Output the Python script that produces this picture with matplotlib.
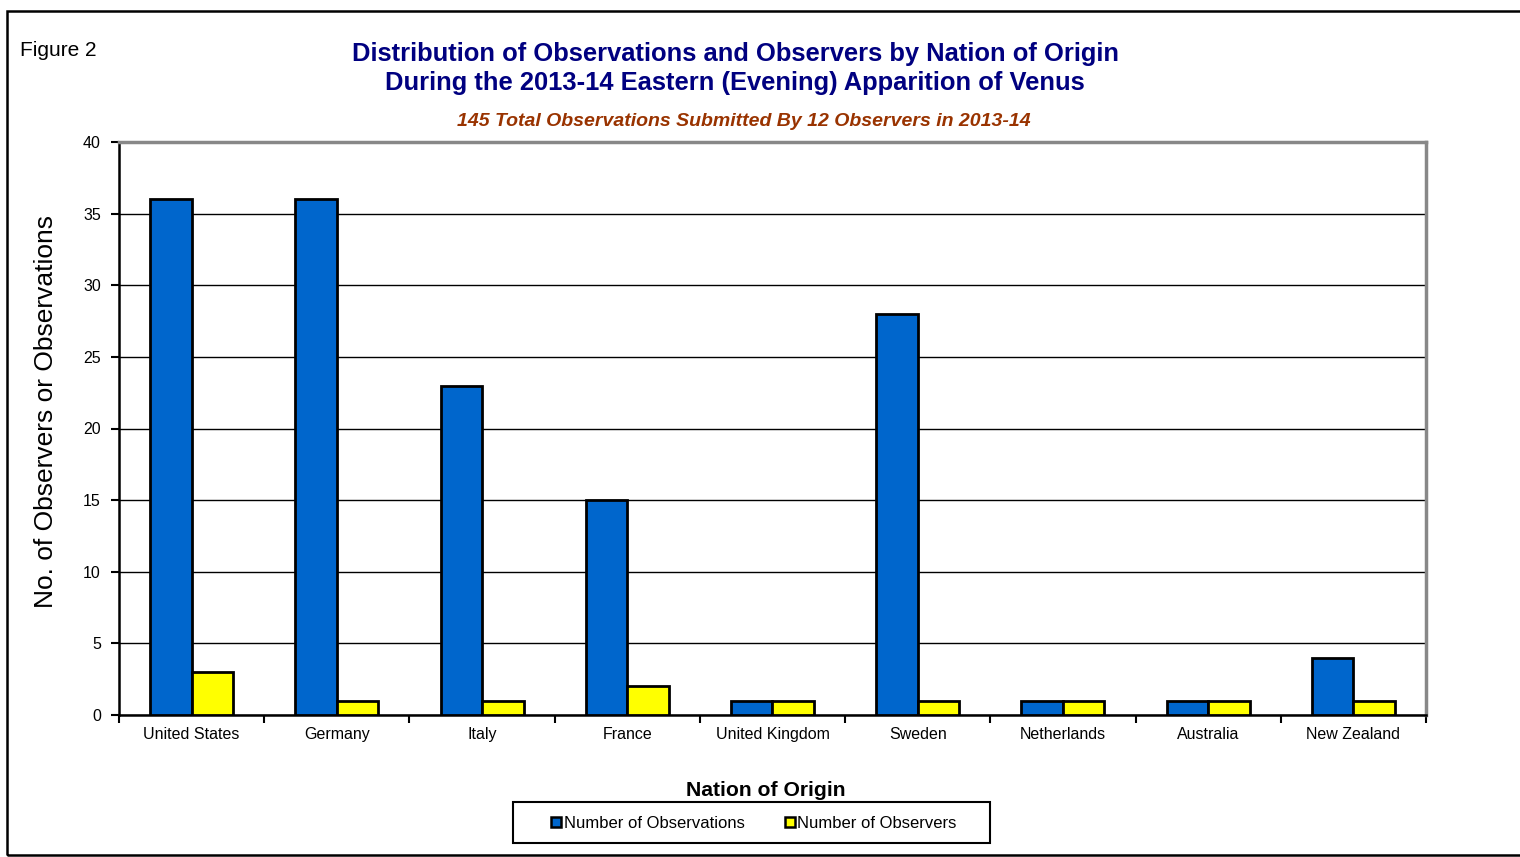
import matplotlib
matplotlib.use("Agg")
import matplotlib.pyplot as plt
import numpy as np
from matplotlib.patches import Rectangle

plt.rcParams['font.family'] = ['Liberation Sans', 'DejaVu Sans']

nations = ["United States", "Germany", "Italy", "France", "United Kingdom",
           "Sweden", "Netherlands", "Australia", "New Zealand"]
observations = [36, 36, 23, 15, 1, 28, 1, 1, 4]
observers = [3, 1, 1, 2, 1, 1, 1, 1, 1]
series_names = ["Number of Observations", "Number of Observers"]
y_ticks = [0, 5, 10, 15, 20, 25, 30, 35, 40]

W, H = 1520, 857
fig = plt.figure(figsize=(W / 100, H / 100), dpi=100)


def fx(px):
    return px / W


def fy(py):
    return 1 - py / H


# outer frame of the figure
fig.add_artist(Rectangle((fx(7), fy(855)), (1530 - 7) / W, (855 - 11) / H,
                         transform=fig.transFigure, fill=False, edgecolor='black', lw=1.8))

left, right, top, bottom = 119, 1426, 142, 715
ax = fig.add_axes([fx(left), fy(bottom), (right - left) / W, (bottom - top) / H])

x = np.arange(len(nations))
bw = 0.286
ax.bar(x - bw / 2, observations, width=bw, color='#0066CC', edgecolor='black', lw=2,
       label=series_names[0], zorder=3)
ax.bar(x + bw / 2, observers, width=bw, color='#FFFF00', edgecolor='black', lw=2,
       label=series_names[1], zorder=3)

ax.set_xlim(-0.5, len(nations) - 0.5)
ax.set_ylim(0, 40)
ax.set_yticks(y_ticks)
ax.set_yticklabels([str(v) for v in y_ticks], fontsize=11.5)
ax.yaxis.grid(True, color='black', lw=1)
ax.set_axisbelow(True)
ax.tick_params(axis='y', direction='out', length=6, width=1.5, pad=7)

ax.set_xticks(x)
ax.set_xticklabels(nations, fontsize=11.5, va='baseline')
ax.tick_params(axis='x', length=0, pad=17.5)
ax.set_xticks(np.arange(-0.5, len(nations), 1.0), minor=True)
ax.tick_params(axis='x', which='minor', direction='out', length=6, width=1.5)

for s in ['top', 'right']:
    ax.spines[s].set_color('#888888')
    ax.spines[s].set_linewidth(2.5)
for s in ['left', 'bottom']:
    ax.spines[s].set_color('black')
    ax.spines[s].set_linewidth(1.8)

ax.set_ylabel("No. of Observers or Observations", fontsize=19)
ax.yaxis.set_label_coords(-61 / (right - left), 0.53)

fig.text(fx(20), fy(50), "Figure 2", fontsize=15, va='center', ha='left')
fig.text(fx(735), fy(54), "Distribution of Observations and Observers by Nation of Origin",
         fontsize=18.4, fontweight='bold', color='#000080', ha='center', va='center')
fig.text(fx(735), fy(83), "During the 2013-14 Eastern (Evening) Apparition of Venus",
         fontsize=18.4, fontweight='bold', color='#000080', ha='center', va='center')
fig.text(fx(744), fy(121), "145 Total Observations Submitted By 12 Observers in 2013-14",
         fontsize=14, fontweight='bold', fontstyle='italic', color='#993300',
         ha='center', va='center')
fig.text(fx(766), fy(791), "Nation of Origin", fontsize=15.2, fontweight='bold',
         ha='center', va='center')

# legend box
fig.add_artist(Rectangle((fx(513), fy(843)), (990 - 513) / W, (843 - 802) / H,
                         transform=fig.transFigure, fill=False, edgecolor='black', lw=1.5))
leg = fig.legend(loc='center', bbox_to_anchor=(fx(754), fy(823.5)), ncol=2,
                 fontsize=12, frameon=False,
                 handlelength=0.6, handleheight=0.6, handletextpad=0.15,
                 columnspacing=2.4, borderpad=0.0)
for h in leg.legend_handles:
    h.set_linewidth(1.8)

fig.savefig("out.png", dpi=100)
